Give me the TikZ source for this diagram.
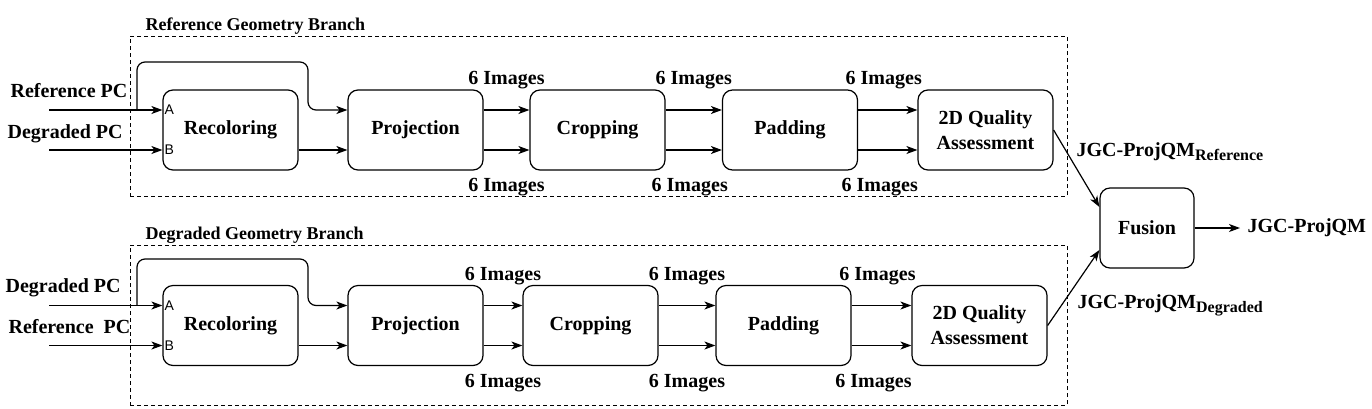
\documentclass[tikz,border=0pt]{standalone}
\usepackage{fontspec}
\setmainfont{Liberation Serif}
\newfontfamily\portfont{Liberation Sans}
\usetikzlibrary{
    positioning,
    arrows.meta
}
\tikzset{
    >={Stealth[length=11pt,width=8pt,inset=3pt]},
    block/.style={
        draw,
        rounded corners=10pt,
        minimum width=135pt,
        minimum height=80pt,
        align=center,
        inner sep=2pt
    },
    branch/.style={
        draw,
        line width=1pt,
        dash pattern=on 4pt off 3pt,
        minimum width=937pt,
        minimum height=160pt
    },
    title/.style={
        anchor=base west,
        inner sep=0pt,
        font=\bfseries\fontsize{18}{20}\selectfont
    },
    inlabel/.style={
        anchor=base west,
        inner sep=0pt
    },
    img/.style={
        inner sep=0pt
    },
    port/.style={
        anchor=west,
        inner sep=1.5pt,
        font=\portfont\fontsize{14}{14}\selectfont
    }
}

\begin{document}
\begin{tikzpicture}[
    x=1pt, y=-1pt,
    line width=1.2pt,
    font=\bfseries\fontsize{20}{25}\selectfont
]
    \useasboundingbox (0,0) rectangle (1372,408);

    % Ramas
    \node[branch] (brR) at (598.5,116) {};
    \node[branch] (brD) at (598.5,325) {};
    \node[title] (tR) at (145,30) {Reference Geometry Branch};
    \node[title] (tD) at (145,239) {Degraded Geometry Branch};

    % Bloques, rama de referencia
    \node[block] (rcR) at (230.5,130) {Recoloring};
    \node[block] (pjR) at (415.5,130) {Projection};
    \node[block] (crR) at (597.5,130) {Cropping};
    \node[block] (pdR) at (790,130)   {Padding};
    \node[block] (qaR) at (985.5,130) {2D Quality\\Assessment};

    % Bloques, rama degradada
    \node[block] (rcD) at (230.5,325.5) {Recoloring};
    \node[block] (pjD) at (415.5,325.5) {Projection};
    \node[block] (crD) at (590.5,325.5) {Cropping};
    \node[block] (pdD) at (783.5,325.5) {Padding};
    \node[block] (qaD) at (979.5,325.5) {2D Quality\\Assessment};

    \node[block, minimum width=94pt] (fu) at (1147,228) {Fusion};

    % Entradas
    \node[inlabel] (lRA) at (10,97)  {Reference PC};
    \node[inlabel] (lRB) at (7,138)  {Degraded PC};
    \node[inlabel] (lDA) at (5,292)  {Degraded PC};
    \node[inlabel] (lDB) at (8,333)  {Reference\ \ PC};

    \coordinate (inRA) at (49,110);
    \coordinate (inRB) at (49,150);
    \coordinate (inDA) at (49,305.5);
    \coordinate (inDB) at (49,345.5);
    \coordinate (spR)  at (137,110);
    \coordinate (spD)  at (137,305.5);
    \coordinate (upR)  at (308,62);
    \coordinate (upD)  at (308,259);

    \node[port] (aR) at ([yshift=20pt]rcR.west)  {A};
    \node[port] (bR) at ([yshift=-20pt]rcR.west) {B};
    \node[port] (aD) at ([yshift=20pt]rcD.west)  {A};
    \node[port] (bD) at ([yshift=-20pt]rcD.west) {B};

    % Flechas, rama de referencia
    \path[->]
        (inRA) edge (aR.west)
        (inRB) edge (bR.west)
        ([yshift=-20pt]rcR.east) edge ([yshift=-20pt]pjR.west)

        ([yshift=20pt]pjR.east)
            edge node[img, above=20pt] {6 Images} ([yshift=20pt]crR.west)
        ([yshift=-20pt]pjR.east)
            edge node[img, below=28pt] {6 Images} ([yshift=-20pt]crR.west)

        ([yshift=20pt]crR.east)
            edge node[img, above=20pt] {6 Images} ([yshift=20pt]pdR.west)
        ([yshift=-20pt]crR.east)
            edge node[img, below=28pt, xshift=-4pt] {6 Images} ([yshift=-20pt]pdR.west)

        ([yshift=20pt]pdR.east)
            edge node[img, above=20pt, xshift=-4pt] {6 Images} ([yshift=20pt]qaR.west)
        ([yshift=-20pt]pdR.east)
            edge node[img, below=28pt, xshift=-8pt] {6 Images} ([yshift=-20pt]qaR.west);

    \draw[->, rounded corners=8pt] (spR) |- (upR) |- ([yshift=20pt]pjR.west);

    % Flechas, rama degradada
    \path[->]
        (inDA) edge (aD.west)
        (inDB) edge (bD.west)
        ([yshift=-20pt]rcD.east) edge ([yshift=-20pt]pjD.west)

        ([yshift=20pt]pjD.east)
            edge node[img, above=20pt] {6 Images} ([yshift=20pt]crD.west)
        ([yshift=-20pt]pjD.east)
            edge node[img, below=28pt] {6 Images} ([yshift=-20pt]crD.west)

        ([yshift=20pt]crD.east)
            edge node[img, above=20pt] {6 Images} ([yshift=20pt]pdD.west)
        ([yshift=-20pt]crD.east)
            edge node[img, below=28pt] {6 Images} ([yshift=-20pt]pdD.west)

        ([yshift=20pt]pdD.east)
            edge node[img, above=20pt, xshift=-4pt] {6 Images} ([yshift=20pt]qaD.west)
        ([yshift=-20pt]pdD.east)
            edge node[img, below=28pt, xshift=-8pt] {6 Images} ([yshift=-20pt]qaD.west);

    \draw[->, rounded corners=8pt] (spD) |- (upD) |- ([yshift=20pt]pjD.west);

    % Fusion
    \node[inlabel] (sR) at (1076,156)
        {JGC-ProjQM\raisebox{-4pt}{\fontsize{16}{16}\selectfont Reference}};
    \node[inlabel] (sD) at (1077,308)
        {JGC-ProjQM\raisebox{-4pt}{\fontsize{16}{16}\selectfont Degraded}};
    \node[anchor=west, inner sep=7pt] (out) at (1240,228) {JGC-ProjQM};

    \path[->]
        (qaR.east) edge ([yshift=21pt]fu.west)
        (qaD.east) edge ([yshift=-22pt]fu.west)
        (fu.east)  edge (out.west);

\end{tikzpicture}
\end{document}
